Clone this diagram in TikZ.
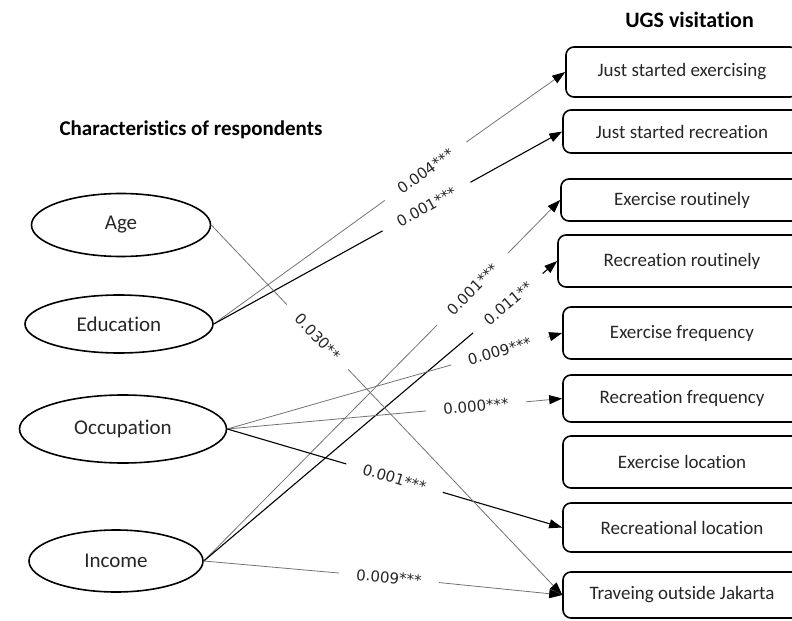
\documentclass[tikz,border=0pt]{standalone}
\usepackage{fontspec}
\setmainfont[Ligatures=NoCommon,RawFeature=-liga]{Carlito}
\newfontfamily\pfont{DejaVu Sans}
\usetikzlibrary{shapes.geometric,arrows.meta}

\tikzset{
  resp/.style={draw, ellipse, line width=1.6bp, text=black!85,
    font=\fontsize{21bp}{25bp}\selectfont},
  visit/.style={draw, rounded corners=8bp, line width=1.6bp, text=black!85,
    font=\fontsize{19bp}{23bp}\selectfont},
  head/.style={font=\bfseries\fontsize{21bp}{25bp}\selectfont},
  pval/.style={inner sep=2bp, minimum width=100bp, text=black!85,
    font=\pfont\fontsize{15bp}{18bp}\selectfont},
  gline/.style={draw, black!55, line width=0.8bp},
  bline/.style={draw, black, line width=1.1bp},
  arr/.style={-{Triangle[length=13bp,width=9bp,color=black]}}
}

\begin{document}
\begin{tikzpicture}[x=1bp,y=-1bp]
\path[use as bounding box] (0,0) rectangle (792,621);
\clip (0,0) rectangle (792,621);

\node[head, font=\bfseries\fontsize{22bp}{26bp}\selectfont] (ugs) at (689.5,20) {UGS visitation};
\node[head] (chars) at (191,130) {Characteristics of respondents};

\node[resp, minimum width=179bp, minimum height=63bp] (age) at (121,225) {Age};
\node[resp, minimum width=188bp, minimum height=58bp] (edu) at (119,324) {Education};
\node[resp, minimum width=207bp, minimum height=68bp] (occ) at (123,429) {Occupation};
\node[resp, minimum width=174bp, minimum height=62bp] (inc) at (116,561) {Income};

\node[visit, minimum width=232bp, minimum height=50bp] (b1) at (682,72) {Just started exercising};
\node[visit, minimum width=238bp, minimum height=43bp] (b2) at (682,131.5) {Just started recreation};
\node[visit, minimum width=242bp, minimum height=42bp] (b3) at (682,200) {Exercise routinely};
\node[visit, minimum width=248bp, minimum height=52bp] (b4) at (682,261) {Recreation routinely};
\node[visit, minimum width=238bp, minimum height=52bp] (b5) at (682,333) {Exercise frequency};
\node[visit, minimum width=238bp, minimum height=47bp] (b6) at (682,398.5) {Recreation frequency};
\node[visit, minimum width=238bp, minimum height=52bp] (b7) at (682,462) {Exercise location};
\node[visit, minimum width=238bp, minimum height=49bp] (b8) at (682,527.5) {Recreational location};
\node[visit, minimum width=238bp, minimum height=46bp] (b9) at (682,595) {Traveing outside Jakarta};

% significance values, each one sits in a gap of its line
\node[pval, rotate=35.8] (p1) at (425.5,171) {0.004***};
\node[pval, rotate=28.8] (p2) at (426.5,206.6) {0.001***};
\node[pval, rotate=45.2] (p3) at (472.5,289.2) {0.001***};
\node[pval, rotate=40.2, minimum width=91bp] (p4) at (508,303.3) {0.011**};
\node[pval, rotate=15.9] (p5) at (499.5,351.1) {0.009***};
\node[pval, rotate=5.2] (p6) at (476,406.4) {0.000***};
\node[pval, rotate=-16.3] (p7) at (394.5,478.1) {0.001***};
\node[pval, rotate=-46.3, minimum width=89bp] (p8) at (317.5,337) {0.030**};
\node[pval, rotate=-5.1] (p9) at (389,577.5) {0.009***};

\path[gline] (edu.east) -- (p1);
\path[gline,arr] (p1) -- (b1.west);
\path[bline] (edu.east) -- (p2);
\path[bline,arr] (p2) -- (b2.west);
\path[gline] (inc.east) -- (p3);
\path[gline,arr] (p3) -- (b3.west);
\path[bline] (inc.east) -- (p4);
\path[bline,arr] (p4) -- (b4.west);
\path[gline] (occ.east) -- (p5);
\path[gline,arr] (p5) -- (b5.west);
\path[gline] (occ.east) -- (p6);
\path[gline,arr] (p6) -- (b6.west);
\path[bline] (occ.east) -- (p7);
\path[bline,arr] (p7) -- (b8.west);
\path[gline] (age.east) -- (p8);
\path[gline,arr] (p8) -- (b9.west);
\path[gline] (inc.east) -- (p9);
\path[gline,arr] (p9) -- (b9.west);
\end{tikzpicture}
\end{document}
